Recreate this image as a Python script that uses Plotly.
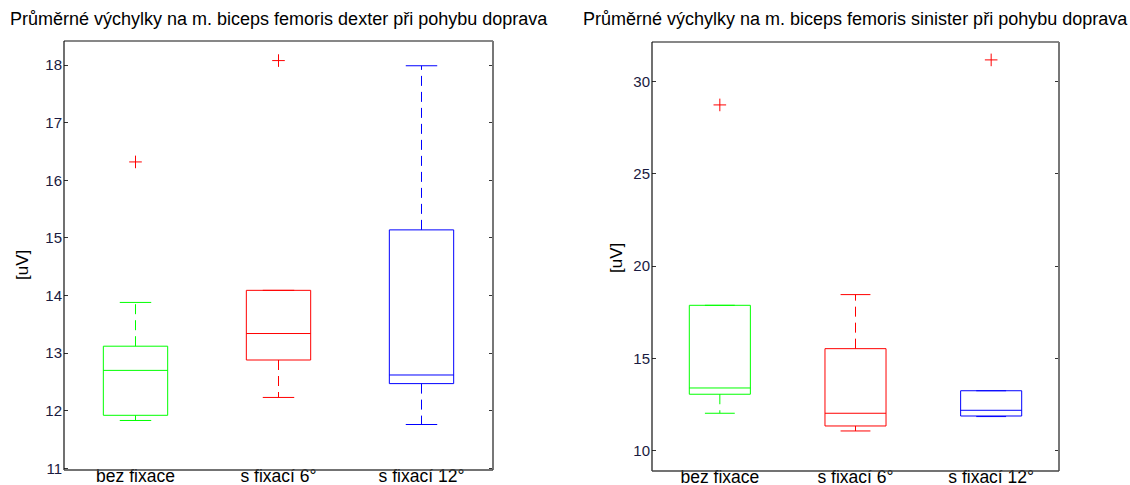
import plotly.graph_objects as go

# Groups and colours
groups = ["bez fixace", "s fixací 6°", "s fixací 12°"]
colors = ["#00ff00", "#ff0000", "#0000ff"]

# m. biceps femoris dexter – box statistics [uV]
dexter_low = [11.83, 12.23, 11.76]
dexter_q1 = [11.92, 12.88, 12.47]
dexter_med = [12.70, 13.34, 12.62]
dexter_q3 = [13.12, 14.09, 15.14]
dexter_high = [13.88, 14.09, 17.99]
dexter_out = [[16.32], [18.08], []]

# m. biceps femoris sinister – box statistics [uV]
sinister_low = [12.03, 11.07, 11.85]
sinister_q1 = [13.06, 11.34, 11.88]
sinister_med = [13.40, 12.03, 12.19]
sinister_q3 = [17.88, 15.53, 13.25]
sinister_high = [17.88, 18.46, 13.25]
sinister_out = [[28.74], [], [31.18]]

titles = [
    "Průměrné výchylky na m. biceps femoris dexter při pohybu doprava",
    "Průměrné výchylky na m. biceps femoris sinister při pohybu doprava",
]

FONT = "Liberation Sans, Arial, sans-serif"
HALF = 0.225      # half box width
CAP = 0.11        # half whisker-cap width

fig = go.Figure()


def add_boxes(stats, xa, ya):
    low, q1, med, q3, high, outs = stats
    for i in range(len(groups)):
        x0 = i + 1
        c = colors[i]
        common = dict(mode="lines", xaxis=xa, yaxis=ya, hoverinfo="skip",
                      showlegend=False)
        # box
        fig.add_trace(go.Scatter(
            x=[x0 - HALF, x0 + HALF, x0 + HALF, x0 - HALF, x0 - HALF],
            y=[q1[i], q1[i], q3[i], q3[i], q1[i]],
            line=dict(color=c, width=1), **common))
        # median
        fig.add_trace(go.Scatter(x=[x0 - HALF, x0 + HALF], y=[med[i], med[i]],
                                 line=dict(color=c, width=1), **common))
        # whiskers (dashed)
        fig.add_trace(go.Scatter(x=[x0, x0], y=[q3[i], high[i]],
                                 line=dict(color=c, width=1, dash="10px,6px"), **common))
        fig.add_trace(go.Scatter(x=[x0, x0], y=[q1[i], low[i]],
                                 line=dict(color=c, width=1, dash="10px,6px"), **common))
        # caps
        fig.add_trace(go.Scatter(x=[x0 - CAP, x0 + CAP], y=[high[i], high[i]],
                                 line=dict(color=c, width=1), **common))
        fig.add_trace(go.Scatter(x=[x0 - CAP, x0 + CAP], y=[low[i], low[i]],
                                 line=dict(color=c, width=1), **common))
        # outliers
        if outs[i]:
            fig.add_trace(go.Scatter(
                x=[x0] * len(outs[i]), y=outs[i], mode="markers",
                marker=dict(symbol="cross-thin", size=9,
                            line=dict(color="#ff0000", width=1)),
                xaxis=xa, yaxis=ya, hoverinfo="skip", showlegend=False))


add_boxes((dexter_low, dexter_q1, dexter_med, dexter_q3, dexter_high, dexter_out), "x", "y")
add_boxes((sinister_low, sinister_q1, sinister_med, sinister_q3, sinister_high, sinister_out), "x2", "y2")

W, H = 1130, 485
dom1x = [64 / W, 493 / W]
dom1y = [(H - 470) / H, (H - 41) / H]
dom2x = [652 / W, 1059 / W]
dom2y = [(H - 471) / H, (H - 42) / H]

xcommon = dict(range=[0.5, 3.5], tickvals=[1, 2, 3], ticktext=groups,
               showgrid=False, zeroline=False, ticks="", showline=False,
               automargin=False,
               tickfont=dict(family=FONT, size=17.5, color="#000"),
               ticklabelstandoff=-7)
ycommon = dict(showgrid=False, zeroline=False, ticks="inside", ticklen=4,
               tickcolor="#333", showline=False, mirror="ticks",
               automargin=False,
               tickfont=dict(family=FONT, size=15, color="#1a1a40"),
               ticklabelstandoff=1)

fig.update_layout(
    width=W, height=H,
    margin=dict(l=0, r=0, t=0, b=0),
    plot_bgcolor="white", paper_bgcolor="white",
    xaxis=dict(domain=dom1x, anchor="y", **xcommon),
    yaxis=dict(domain=dom1y, anchor="x", range=[10.97, 18.42],
               tickvals=[11, 12, 13, 14, 15, 16, 17, 18], **ycommon),
    xaxis2=dict(domain=dom2x, anchor="y2", **xcommon),
    yaxis2=dict(domain=dom2y, anchor="x2", range=[8.9, 32.15],
                tickvals=[10, 15, 20, 25, 30], **ycommon),
)

# frames: dark top/left, grey right/bottom edges
for xa, ya in (("x", "y"), ("x2", "y2")):
    xr, yr = f"{xa} domain", f"{ya} domain"
    fig.add_shape(type="line", xref=xr, yref=yr, x0=0, x1=1, y0=1, y1=1,
                  line=dict(color="#111", width=1.2))
    fig.add_shape(type="line", xref=xr, yref=yr, x0=0, x1=0, y0=0, y1=1,
                  line=dict(color="#111", width=1.2))
    fig.add_shape(type="line", xref=xr, yref=yr, x0=1, x1=1, y0=0, y1=1,
                  line=dict(color="#777", width=2))
    fig.add_shape(type="line", xref=xr, yref=yr, x0=0, x1=1, y0=0, y1=0,
                  line=dict(color="#444", width=1.5))

# titles and y-axis labels
for cx, txt in ((278.5 / W, titles[0]), (855.5 / W, titles[1])):
    fig.add_annotation(text=txt, x=cx, y=1 - 19 / H, xref="paper", yref="paper",
                       xanchor="center", yanchor="middle", showarrow=False,
                       font=dict(family=FONT, size=18, color="#000"))
for cx, cy in ((22 / W, 1 - 265 / H), (616 / W, 1 - 258 / H)):
    fig.add_annotation(text="[uV]", x=cx, y=cy, xref="paper", yref="paper",
                       xanchor="center", yanchor="middle", showarrow=False,
                       textangle=-90,
                       font=dict(family=FONT, size=17, color="#000"))

fig.write_html("out.html")
